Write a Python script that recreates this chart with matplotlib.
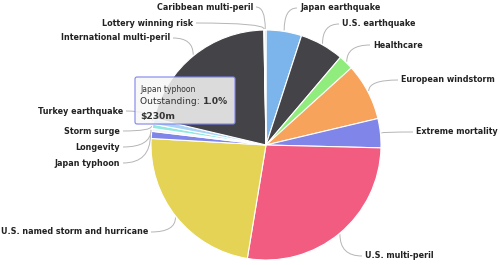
import numpy as np
import matplotlib.pyplot as plt
from matplotlib.patches import FancyBboxPatch
from matplotlib.path import Path
from matplotlib.patches import PathPatch

# slices, clockwise from 12 o'clock (share of outstanding, %)
categories = [
    "Japan earthquake", "U.S. earthquake", "Healthcare", "European windstorm",
    "Extreme mortality", "U.S. multi-peril", "U.S. named storm and hurricane",
    "Japan typhoon", "Longevity", "Storm surge", "Turkey earthquake",
    "International multi-peril", "Lottery winning risk", "Caribbean multi-peril",
]
shares = [5.0, 6.2, 2.1, 8.0, 4.1, 27.2, 23.3, 1.0, 0.4, 0.6, 0.8, 21.0, 0.1, 0.2]
colors = ["#7cb5ec", "#434348", "#90ed7d", "#f7a35c", "#8085e9", "#f15c80",
          "#e4d354", "#8085e9", "#f4f4f8", "#91e8e1", "#a9d4f5", "#434348",
          "#f7a35c", "#90ed7d"]

tooltip_name = "Japan typhoon"
tooltip_share = "1.0%"
tooltip_amount = "$230m"

# layout (pixel coordinates, y from top)
W, H = 500, 265
CX, CY, R = 266, 145, 115
label_pos = {
    "Japan earthquake": (300, 8, "left"),
    "U.S. earthquake": (342, 24, "left"),
    "Healthcare": (373, 45, "left"),
    "European windstorm": (401, 80, "left"),
    "Extreme mortality": (416, 132, "left"),
    "U.S. multi-peril": (365, 256, "left"),
    "U.S. named storm and hurricane": (148, 232, "right"),
    "Japan typhoon": (120, 163, "right"),
    "Longevity": (120, 147, "right"),
    "Storm surge": (120, 131, "right"),
    "Turkey earthquake": (123, 111, "right"),
    "International multi-peril": (170, 38, "right"),
    "Lottery winning risk": (193, 23, "right"),
    "Caribbean multi-peril": (253, 7, "right"),
}


def fy(y):
    return H - y


fig = plt.figure(figsize=(W / 100, H / 100), dpi=100)
ax = fig.add_axes([0, 0, 1, 1])

ax.pie(shares, colors=colors, center=(CX, fy(CY)), radius=R, startangle=90,
       counterclock=False, wedgeprops=dict(edgecolor="white", linewidth=0.8))
ax.set_xlim(0, W)
ax.set_ylim(0, H)
ax.set_aspect("equal")
ax.axis("off")

# data labels with soft connectors
cum = np.cumsum([0] + shares)
for i, name in enumerate(categories):
    mid = np.radians((cum[i] + cum[i + 1]) / 2 / 100 * 360)
    ex = CX + (R + 1) * np.sin(mid)
    ey = CY - (R + 1) * np.cos(mid)
    lx, ly, side = label_pos[name]
    sx = lx - 3 if side == "left" else lx + 3
    path = Path([(sx, fy(ly)), (ex, fy(ly)), (ex, fy(ey))],
                [Path.MOVETO, Path.CURVE3, Path.CURVE3])
    ax.add_patch(PathPatch(path, fc="none", ec="#b5b5b5", lw=0.7))
    ax.text(lx, fy(ly), name, ha=side, va="center", fontsize=5.8,
            fontweight="bold", color="#222222")

# tooltip
box = FancyBboxPatch((135, fy(124)), 100, 47, boxstyle="round,pad=0,rounding_size=2",
                     fc=(0.97, 0.97, 0.97, 0.85), ec="#8085e9", lw=0.8, zorder=5)
ax.add_patch(box)
ax.text(140, fy(89), tooltip_name, fontsize=5.5, color="#333333", va="center", zorder=6)
t = ax.text(140, fy(102), "Outstanding: ", fontsize=6.6, color="#333333", va="center", zorder=6)
fig.canvas.draw()
bb = t.get_window_extent()
ax.text(140 + bb.width, fy(102), tooltip_share, fontsize=6.6, color="#333333",
        fontweight="bold", va="center", zorder=6)
ax.text(140, fy(116), tooltip_amount, fontsize=6.6, color="#333333",
        fontweight="bold", va="center", zorder=6)

fig.savefig("out.png", dpi=100)
